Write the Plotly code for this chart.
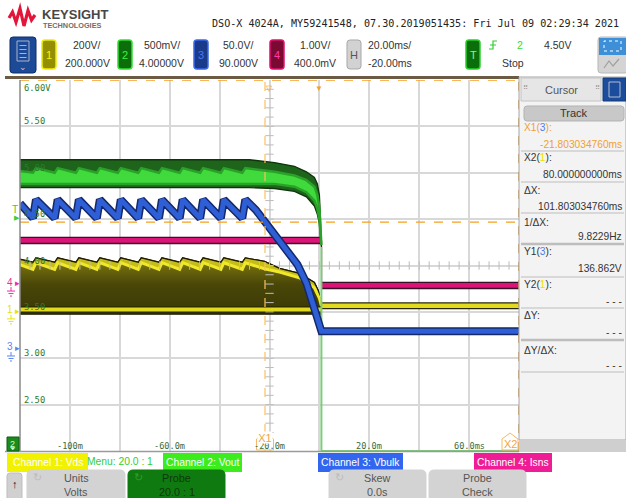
import numpy as np
import plotly.graph_objects as go

W, H = 626, 498
SANS = "Liberation Sans, Arial, sans-serif"
MONO = "DejaVu Sans Mono, monospace"

# graticule position on screen (pixels)
GX0, GX1, GY0, GY1 = 20, 519, 80, 451

# horizontal: 20 ms/div, -20 ms delay ; vertical graticule in channel-2 volts
T_RANGE = [-120.0, 80.0]
V_RANGE = [2.0, 6.0]
# channel: (volts/div, offset)
SCALE = {1: (200.0, 200.0), 2: (0.5, 4.0), 3: (50.0, 90.0), 4: (1.0, 0.4)}

# ---------------- waveform data (time in ms) ----------------
# Channel 3: Vbulk (V) - rectified ripple then collapse after AC loss
vbulk_t = [-120.0, -114.8, -113.6, -106.1, -104.9, -97.6, -96.4, -89.2, -88.0, -80.8, -79.6,
           -72.6, -71.4, -64.3, -63.1, -56.0, -54.8, -47.8, -46.6, -39.5, -38.3, -30.9, -29.7,
           -25.5, -21.8, -18.0, -14.0, -8.8, -5.2, -2.5, -1.2, 0.0, 0.8, 80.0]
vbulk_v = [157, 141, 161, 141, 161, 141, 161, 141, 161, 141, 161,
           141, 161, 141, 161, 141, 161, 141, 161, 141, 161, 141, 161,
           150, 137, 123, 108, 91, 71, 48, 34, 24, 19, 19]

# Channel 2: Vout (V) - noise envelope
vout_env_t = [-120.0, -28.0, -18.0, -10.0, -5.2, -2.0, -0.8, 0.0, 0.4, 0.8]
vout_env_hi = [5.14, 5.14, 5.11, 5.07, 5.01, 4.95, 4.88, 4.76, 4.52, 4.30]
vout_env_lo = [4.84, 4.84, 4.83, 4.80, 4.74, 4.64, 4.55, 4.45, 4.30, 4.20]
# Channel 2: Vout (V) - dense core of the trace
vout_core_t = [-120.0, -114.8, -113.6, -106.1, -104.9, -97.6, -96.4, -89.2, -88.0, -80.8, -79.6,
               -72.6, -71.4, -64.3, -63.1, -56.0, -54.8, -47.8, -46.6, -39.5, -38.3, -30.9, -29.7,
               -18.0, -10.0, -5.2, -2.0, -0.8, 0.0, 0.4, 0.8]
vout_core_hi = [5.02, 5.00, 5.05, 5.00, 5.05, 5.00, 5.05, 5.00, 5.05, 5.00, 5.05,
                5.00, 5.05, 5.00, 5.05, 5.00, 5.05, 5.00, 5.05, 5.00, 5.05, 5.00, 5.05,
                5.01, 4.97, 4.92, 4.85, 4.76, 4.62, 4.42, 4.25]
vout_core_lo_t = [-120.0, -18.0, -10.0, -5.2, -2.0, -0.8, 0.0, 0.4, 0.8]
vout_core_lo = [4.88, 4.88, 4.85, 4.79, 4.70, 4.61, 4.50, 4.34, 4.22]
# Channel 2: Vout after shutdown
vout_off_t = [0.8, 0.8, 80.0]
vout_off_v = [4.20, 0.0, 0.0]

# Channel 1: Vds (V) - switching envelope
vds_top_t = [-120.0, -114.8, -113.6, -106.1, -104.9, -97.6, -96.4, -89.2, -88.0, -80.8, -79.6,
             -72.6, -71.4, -64.3, -63.1, -56.0, -54.8, -47.8, -46.6, -39.5, -38.3, -30.9, -29.7,
             -22.0, -16.0, -8.0, -2.0, -0.4, 0.4, 0.8]
vds_top_v = [227, 214, 233, 214, 233, 214, 233, 214, 233, 214, 233,
             214, 233, 214, 233, 214, 233, 214, 233, 214, 233, 214, 233,
             218, 188, 166, 127, 90, 40, 26]
vds_ridge_t = [-120.0, -114.8, -113.6, -106.1, -104.9, -97.6, -96.4, -89.2, -88.0, -80.8, -79.6,
               -72.6, -71.4, -64.3, -63.1, -56.0, -54.8, -47.8, -46.6, -39.5, -38.3, -30.9, -29.7,
               -22.0, -16.0, -8.0, -2.0, 0.0, 0.8]
vds_ridge_v = [204, 183, 212, 183, 212, 183, 212, 183, 212, 183, 212,
               183, 212, 183, 212, 183, 212, 183, 212, 183, 212, 183, 212,
               186, 172, 147, 104, 58, 26]
vds_low_t = [-120.0, 0.8]
vds_low_v = [10, 10]
vds_floor_v = -10
vds_off_t = [0.8, 80.0]
vds_off_v = [26, 26]

# Channel 4: Isns (V)
isns_on_t = [-120.0, 0.9]
isns_on_v = [0.94, 0.94]
isns_off_t = [0.9, 80.0]
isns_off_v = [-0.03, -0.03]

# cursors / trigger
X1_T, X2_T = -21.803034760, 80.0
Y1_CH3 = 136.862
TRIG_LEVEL_CH2 = 4.50

# axis labels
y_ticks = [6.0, 5.5, 5.0, 4.5, 4.0, 3.5, 3.0, 2.5]
x_ticks = [-100, -60, -20, 20, 60]
x_tick_text = ["-100m", "-60.0m", "-20.0m", "20.0m", "60.0ms"]


def on_grid(ch, v):
    s, o = SCALE[ch]
    return 4.0 + (np.asarray(v, dtype=float) - o) / s * 0.5


def ypix(g):
    return GY0 + (V_RANGE[1] - g) / (V_RANGE[1] - V_RANGE[0]) * (GY1 - GY0)


def fx(x):
    return x / W


def fy(y):
    return 1 - y / H


shapes, annots = [], []


def rect(x0, y0, x1, y1, fill, line=None, lw=0, layer="above"):
    shapes.append(dict(type="rect", xref="paper", yref="paper", x0=fx(x0), x1=fx(x1),
                       y0=fy(y1), y1=fy(y0), fillcolor=fill, layer=layer,
                       line=dict(color=line or fill, width=lw)))


def P(x, y):
    return f"{fx(x):.5f},{fy(y):.5f}"


def rrect(x0, y0, x1, y1, r, fill, line=None, lw=0):
    path = (f"M{P(x0 + r, y0)} L{P(x1 - r, y0)} Q{P(x1, y0)} {P(x1, y0 + r)} "
            f"L{P(x1, y1 - r)} Q{P(x1, y1)} {P(x1 - r, y1)} L{P(x0 + r, y1)} "
            f"Q{P(x0, y1)} {P(x0, y1 - r)} L{P(x0, y0 + r)} Q{P(x0, y0)} {P(x0 + r, y0)} Z")
    shapes.append(dict(type="path", xref="paper", yref="paper", path=path, fillcolor=fill,
                       line=dict(color=line or fill, width=lw)))


def poly(pts, fill=None, line="#000", lw=1, closed=True):
    path = "M" + " L".join(P(x, y) for x, y in pts) + (" Z" if closed else "")
    shapes.append(dict(type="path", xref="paper", yref="paper", path=path,
                       fillcolor=fill if fill else "rgba(0,0,0,0)",
                       line=dict(color=line, width=lw)))


def seg(x0, y0, x1, y1, color, w=1, dash=None):
    shapes.append(dict(type="line", xref="paper", yref="paper", x0=fx(x0), x1=fx(x1),
                       y0=fy(y0), y1=fy(y1), line=dict(color=color, width=w, dash=dash)))


def text(x, y, s, size=10.5, color="#333", anchor="center", family=SANS, **kw):
    annots.append(dict(xref="paper", yref="paper", x=fx(x), y=fy(y), text=s, showarrow=False,
                       xanchor=anchor, yanchor="middle",
                       font=dict(size=size, color=color, family=family), **kw))


fig = go.Figure()


def line_trace(t, g, color, width, **kw):
    fig.add_trace(go.Scatter(x=t, y=g, mode="lines", line=dict(color=color, width=width),
                             hoverinfo="skip", **kw))


# ---------------- Channel 1 (Vds) ----------------
top_g = on_grid(1, vds_top_v)
ridge_g = on_grid(1, vds_ridge_v)
fig.add_trace(go.Scatter(
    x=vds_top_t + [vds_top_t[-1], vds_top_t[0]],
    y=list(top_g) + list(on_grid(1, [vds_floor_v, vds_floor_v])),
    fill="toself", mode="lines", line=dict(color="#201e00", width=1.2),
    fillgradient=dict(type="vertical", start=float(on_grid(1, vds_floor_v)),
                      stop=float(on_grid(1, 225)),
                      colorscale=[[0, "#3a3806"], [0.55, "#4a4708"], [0.85, "#6e690c"], [1, "#8f880f"]]),
    hoverinfo="skip"))
fig.add_trace(go.Scatter(
    x=vds_top_t + vds_ridge_t[::-1], y=list(top_g) + list(ridge_g[::-1]),
    fill="toself", fillcolor="#c6bd18", mode="lines", line=dict(width=0), hoverinfo="skip"))
line_trace(vds_top_t, top_g, "#1e1c02", 1.3)
line_trace(vds_ridge_t, ridge_g, "#f0e82a", 3)
line_trace(vds_low_t, on_grid(1, vds_low_v), "#2a2800", 6.5)
line_trace(vds_low_t, on_grid(1, vds_low_v), "#e2da1e", 4)
line_trace(vds_off_t, on_grid(1, vds_off_v), "#2a2800", 7)
line_trace(vds_off_t, on_grid(1, vds_off_v), "#e2da1e", 4.5)

# centre graticule minor ticks
ct_y = np.round(np.arange(2.1, 6.0, 0.1), 2)
ct_x = np.arange(-116, 80, 4)
fig.add_trace(go.Scatter(x=[-20.0] * len(ct_y), y=ct_y, mode="markers", hoverinfo="skip",
                         marker=dict(symbol="line-ew", size=6, color="#bcbcbc",
                                     line=dict(width=1, color="#bcbcbc"))))
fig.add_trace(go.Scatter(x=ct_x, y=[4.0] * len(ct_x), mode="markers", hoverinfo="skip",
                         marker=dict(symbol="line-ns", size=6, color="#bcbcbc",
                                     line=dict(width=1, color="#bcbcbc"))))

# ---------------- Channel 4 (Isns) ----------------
line_trace([isns_on_t[-1], isns_off_t[0]], on_grid(4, [isns_on_v[-1], isns_off_v[0]]), "#e79ac4", 1.5)
for tt, vv in ((isns_on_t, isns_on_v), (isns_off_t, isns_off_v)):
    line_trace(tt, on_grid(4, vv), "#3a0f28", 7.5)
    line_trace(tt, on_grid(4, vv), "#dc1478", 4.8)

# ---------------- Channel 2 (Vout) ----------------
fig.add_trace(go.Scatter(
    x=vout_env_t + vout_env_t[::-1], y=vout_env_hi + vout_env_lo[::-1],
    fill="toself", fillcolor="#1f641b", mode="lines", line=dict(color="#0e340c", width=1.3),
    hoverinfo="skip"))
fig.add_trace(go.Scatter(
    x=vout_core_t + vout_core_lo_t[::-1], y=vout_core_hi + vout_core_lo[::-1],
    fill="toself", fillcolor="#40da3c", mode="lines", line=dict(color="#2aa22a", width=2.5),
    hoverinfo="skip"))
line_trace(vout_off_t, np.clip(vout_off_v, V_RANGE[0], V_RANGE[1]), "#7ccc7c", 2)

# ---------------- Channel 3 (Vbulk) ----------------
line_trace(vbulk_t, on_grid(3, vbulk_v), "#14286a", 8)
line_trace(vbulk_t, on_grid(3, vbulk_v), "#2f5fd6", 5)

# ---------------- cursors & borders ----------------
ORANGE = "#f5a020"
y1_g = float(on_grid(3, Y1_CH3))
shapes.append(dict(type="line", xref="x", yref="y", x0=T_RANGE[0], x1=T_RANGE[1], y0=y1_g, y1=y1_g,
                   line=dict(color=ORANGE, width=1.3, dash="dash")))
shapes.append(dict(type="line", xref="x", yref="y", x0=X1_T, x1=X1_T, y0=V_RANGE[0], y1=V_RANGE[1],
                   line=dict(color="#f8c060", width=1.2, dash="dash")))
shapes.append(dict(type="line", xref="x", yref="y", x0=X2_T, x1=X2_T, y0=V_RANGE[0], y1=V_RANGE[1],
                   line=dict(color="#c89040", width=1.5, dash="dash")))
shapes.append(dict(type="line", xref="x", yref="y", x0=T_RANGE[0], x1=T_RANGE[1], y0=V_RANGE[1], y1=V_RANGE[1],
                   line=dict(color=ORANGE, width=1.5, dash="dash")))
seg(GX0, GY0, GX0, GY1, "#8a8a8a", 1.5)
seg(5, GY1 + 0.5, GX1, GY1 + 0.5, "#9a9a9a", 1.5)

# graticule labels
for v in y_ticks:
    lab = f"{v:.2f}" + ("V" if v == V_RANGE[1] else "")
    annots.append(dict(xref="paper", yref="y", x=fx(22), y=v, text=lab, showarrow=False,
                       xanchor="left", yanchor="top" if v == V_RANGE[1] else "bottom",
                       yshift=-1 if v == V_RANGE[1] else -2,
                       font=dict(size=8.8, color="#2e7a2e", family=MONO)))
for t, lab in zip(x_ticks, x_tick_text):
    annots.append(dict(xref="x", yref="paper", x=t, y=fy(446), text=lab, showarrow=False,
                       xanchor="center", yanchor="middle",
                       font=dict(size=8.6, color="#3a6a3a", family=MONO)))

# time-reference and trigger markers on top edge
annots.append(dict(xref="x", yref="paper", x=0, y=fy(80), text="▼", showarrow=False, yanchor="top",
                   font=dict(size=8, color=ORANGE)))
annots.append(dict(xref="x", yref="paper", x=-20, y=fy(80), text="▽", showarrow=False, yanchor="top",
                   font=dict(size=8, color=ORANGE)))

# X1 / X2 cursor tags
x1p = GX0 + (X1_T - T_RANGE[0]) / (T_RANGE[1] - T_RANGE[0]) * (GX1 - GX0)
poly([(x1p - 8.5, 450), (x1p - 8.5, 439), (x1p, 433), (x1p + 8.5, 439), (x1p + 8.5, 450)],
     fill="white", line="#f5b866", lw=1)
annots.append(dict(xref="x", yref="paper", x=X1_T, y=fy(443.5), text="X1", showarrow=False,
                   bgcolor="white", width=14, height=11, borderpad=0,
                   font=dict(size=11, color="#f0a448", family=SANS)))
poly([(502, 450), (502, 439), (510, 433), (518, 439), (518, 450)], fill="white", line="#f5b866", lw=1)
text(510, 443.5, "X2", 11, "#f0a448")

# channel ground / trigger markers left of graticule
def chan_marker(num, ch, color):
    yp = ypix(float(on_grid(ch, 0.0)))
    text(9.5, yp - 2, num, 10, color)
    text(17, yp - 1, "▸", 9, color)
    seg(11, yp + 3, 11, yp + 7, color, 1)
    seg(7, yp + 7, 15, yp + 7, color, 1)
    seg(8.5, yp + 9.5, 13.5, yp + 9.5, color, 1)
    seg(10, yp + 12, 12, yp + 12, color, 1)


chan_marker("4", 4, "#f02aa6")
chan_marker("1", 1, "#e6e200")
chan_marker("3", 3, "#5a86f0")
ty = ypix(TRIG_LEVEL_CH2)
text(15, ty - 10, "T", 10, "#3ccc3c")
text(17, ty - 2, "▶", 7, "#3ccc3c")
rect(7, 437, 19, 451, "#1c8a1c", "#0f5f0f", 1)
text(12.5, 443.5, "2", 9, "#c8ffc8")
poly([(10.5, 447.5), (15, 447.5), (12.75, 450)], fill="#c8ffc8", line="#c8ffc8", lw=0.5)

# ---------------- header ----------------
poly([(9, 18), (12.5, 12), (16, 22), (20, 8.5), (24, 26), (28, 10.5), (31.5, 20), (35, 15)],
     line="#e3163a", lw=3.2, closed=False)
text(40, 14.5, "<b>KEYSIGHT</b>", 13, "#474747", "left")
text(41, 25.5, "<b>TECHNOLOGIES</b>", 7.3, "#6e6e6e", "left")
text(210, 23, "DSO-X 4024A, MY59241548, 07.30.2019051435: Fri Jul 09 02:29:34 2021", 10.1, "#222",
     "left", MONO)

rrect(10, 37, 36, 73, 3, "#1c4a96", "#0e2e66", 1)
rect(17, 41, 29, 61, "#1c4a96", "#a8b4c8", 1)
for yy in (45.5, 49.5, 53.5, 57.5):
    seg(19.5, yy, 26.5, yy, "#a8b4c8", 1)
text(23, 67, "⌄", 9, "#c0c8d8")

channel_boxes = [(42, "1", "#948f00", "#eeee00", "#f4f400", "200V/", "200.000V", 87),
                 (118, "2", "#0b6e0b", "#33dd33", "#44ee44", "500mV/", "4.00000V", 162),
                 (194, "3", "#1a3a8a", "#3a6ae6", "#4a7af0", "50.0V/", "90.000V", 238),
                 (270, "4", "#7a0a34", "#e01070", "#ff3aa6", "1.00V/", "400.0mV", 315)]
for bx, num, fill, edge, tcol, l1, l2, tx in channel_boxes:
    rrect(bx, 40, bx + 14, 69, 3, fill, edge, 1.5)
    text(bx + 7, 54.5, num, 11, tcol)
    text(tx, 45, l1, 10.5, "#333")
    text(tx, 63, l2, 10.5, "#333")

rrect(347, 40, 361, 69, 3, "#d2d2d2", "#a8a8a8", 1)
text(354, 54.5, "H", 11, "#555")
text(366, 45, "20.00ms/", 10.5, "#333", "left")
text(366, 63, "-20.00ms", 10.5, "#333", "left")
rrect(466, 40, 480, 69, 3, "#0a6e0a", "#2ad02a", 1.5)
text(473, 54.5, "T", 11, "#8ef08e")
poly([(489, 49), (493, 49), (493, 41), (497, 41)], line="#33cc33", lw=1.2, closed=False)
seg(490, 45, 496, 45, "#33cc33", 1)
text(520, 45, "2", 10.5, "#33dd33")
text(557, 45, "4.50V", 10.5, "#333")
text(513, 63, "Stop", 10.5, "#333")
rrect(598, 37, 628, 73, 3, "#d4d4d4", "#b8b8b8", 1)
rect(599, 38, 627, 55, "#3d8fd8")
rect(604, 41, 621, 51, "#3d8fd8", "white", 1)
shapes[-1]["line"]["dash"] = "dot"
poly([(604, 68), (609, 61), (613, 66), (619, 59)], line="#a0a0a0", lw=1.2, closed=False)

rect(5, 76, GX1, 79, "#6b5b45")

# ---------------- cursor panel ----------------
rect(519, 77, 626, 440, "#f3f3f3", "#a6a6a6", 1)
rect(521, 78, 601, 101, "#e6e6e6", "#c4c4c4", 1)
text(561, 90, "Cursor", 11, "#555")
text(525, 88, "⠿", 7, "#999")
text(597, 88, "⠿", 7, "#999")
rect(603, 78, 626, 101, "#1c4c9c", "#123a7a", 1)
rect(609, 82, 620, 97, "#1c4c9c", "#b0bcd0", 1)
rrect(524, 106, 624, 121, 3, "#c8c8c8", "#b4b4b4", 1)
text(574, 113.5, "Track", 11, "#333")

BLUE_T = '<span style="color:#4a7af0">3</span>'
YEL_T = '<span style="color:#e8e000">1</span>'
panel_rows = [(f"X1({BLUE_T}):", 128, "-21.803034760ms", 144, "#f0a030", 151, 1),
              (f"X2({YEL_T}):", 158, "80.000000000ms", 174, "#333", 182, 1),
              ("ΔX:", 190, "101.803034760ms", 206, "#333", 213, 1),
              ("1/ΔX:", 222, "9.8229Hz", 237, "#333", 244, 2.5),
              (f"Y1({BLUE_T}):", 252, "136.862V", 268, "#333", 277, 1),
              (f"Y2({YEL_T}):", 284, "- - -", 301, "#333", 308, 1),
              ("ΔY:", 315, "- - -", 332, "#333", 340, 2.5),
              ("ΔY/ΔX:", 350, "- - -", 365, "#333", 372, 1)]
for lab, ly, val, vy, col, sy, sw in panel_rows:
    text(522, ly, lab, 10.2, col, "left")
    text(624, vy, val, 10.2, col, "right")
    seg(521, sy, 624, sy, "#bdbdbd", sw)
rect(519, 440, 626, 452, "#cfcfcf")

# ---------------- softkey area ----------------
label_boxes = [(7, 88, "#f2f200", "Channel 1: Vds"), (163, 242, "#3dec1c", "Channel 2: Vout"),
               (318, 403, "#3366ee", "Channel 3: Vbulk"), (474, 552, "#f01c96", "Channel 4: Isns")]
for x0, x1, col, lab in label_boxes:
    rect(x0, 453, x1, 472, col)
    text((x0 + x1) / 2, 462.5, lab, 10.3, "white")
text(120, 461, "Menu: 20.0 : 1", 10.3, "#33cc33")

rrect(7, 473, 22, 502, 3, "#d0d0d0", "#bdbdbd", 1)
text(14.5, 484, "<b>↑</b>", 11, "#111")
softkeys = [(27, 125, "#d3d3d3", "#555", "Units", "Volts", "#bcbcbc"),
            (128, 225, "#0f7a0f", "#0d3a0d", "Probe", "20.0 : 1", "#2e9e2e"),
            (329, 426, "#d3d3d3", "#555", "Skew", "0.0s", "#bcbcbc"),
            (429, 526, "#d3d3d3", "#555", "Probe", "Check", None)]
for x0, x1, col, tcol, l1, l2, icon in softkeys:
    rrect(x0, 470, x1, 503, 5, col, col, 1)
    text((x0 + x1) / 2, 478, l1, 10.8, tcol)
    text((x0 + x1) / 2, 492, l2, 10.8, tcol)
    if icon:
        text(x0 + 10, 477, "↻", 11, icon)

fig.update_layout(
    width=W, height=H, margin=dict(l=0, r=0, t=0, b=0, pad=0),
    paper_bgcolor="white", plot_bgcolor="white", showlegend=False,
    xaxis=dict(domain=[fx(GX0), fx(GX1)], range=T_RANGE, tickvals=list(range(-120, 81, 20)),
               showticklabels=False, showgrid=True, gridcolor="#d8d8d8", gridwidth=1.5,
               zeroline=False, showline=False, ticks="", fixedrange=True),
    yaxis=dict(domain=[fy(GY1), fy(GY0)], range=V_RANGE, tickvals=y_ticks + [2.0],
               showticklabels=False, showgrid=True, gridcolor="#d8d8d8", gridwidth=1.5,
               zeroline=False, showline=False, ticks="", fixedrange=True),
    shapes=shapes, annotations=annots,
)

fig.write_html("out.html")
